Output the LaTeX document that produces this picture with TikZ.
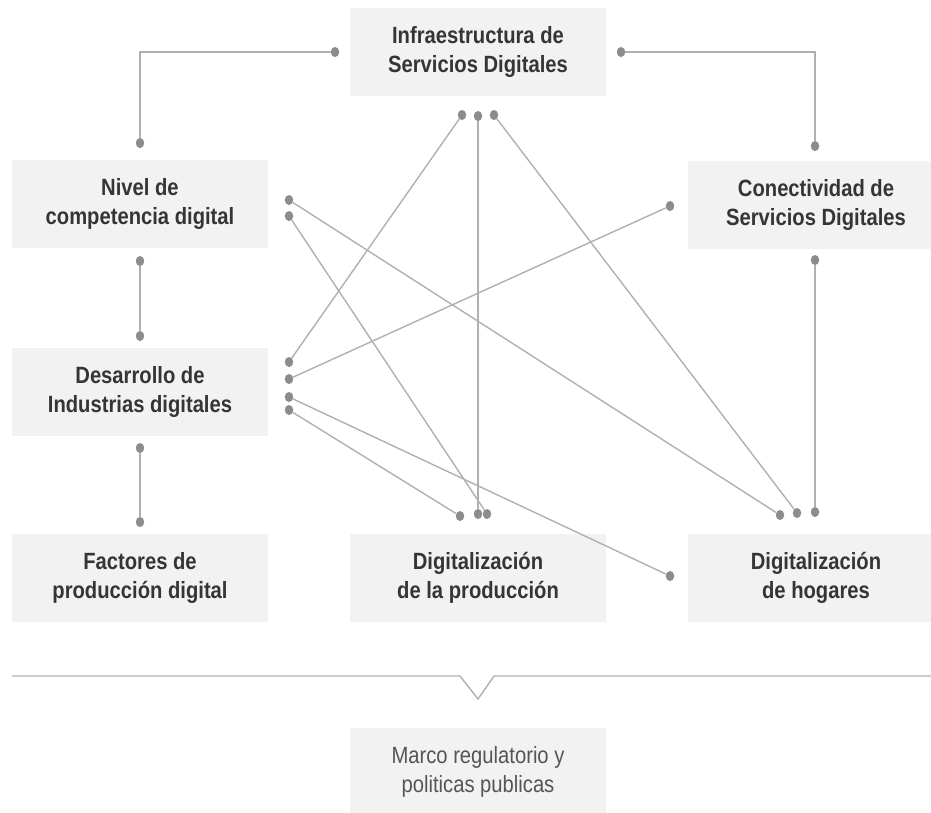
\documentclass[tikz,border=0pt]{standalone}
\usepackage{fontspec}
\usetikzlibrary{shapes.geometric}
\setmainfont{Liberation Sans}
\newfontfamily\boxfont[FakeStretch=0.86]{Liberation Sans}
\definecolor{boxfill}{HTML}{F2F2F2}
\definecolor{txt}{HTML}{353535}
\definecolor{txtlight}{HTML}{555555}
\definecolor{wire}{HTML}{B0B0B0}
\definecolor{dotc}{HTML}{8C8C8C}
\tikzset{
  panel/.style={fill=boxfill, draw=none, minimum width=256pt, minimum height=88pt, inner sep=0pt, align=center, text=txt, font=\boxfont\fontsize{23.5}{29}\selectfont\bfseries},
  panellight/.style={panel, text=txtlight, font=\boxfont\fontsize{23.5}{29}\selectfont},
  pin/.style={ellipse, fill=dotc, draw=none, minimum width=8.5pt, minimum height=10pt, inner sep=0pt},
  wireline/.style={draw=wire, line width=1.4pt},
}
\begin{document}
\begin{tikzpicture}[x=1pt,y=-1pt]
\useasboundingbox (0,0) rectangle (931,812);
% boxes
\node[panel] (infra) at (478,52) {Infraestructura de\\Servicios Digitales};
\node[panel] (nivel) at (140,204) {Nivel de\\competencia digital};
\node[panel] (conect) at (816,205) {Conectividad de\\Servicios Digitales};
\node[panel] (desa) at (140,392) {Desarrollo de\\Industrias digitales};
\node[panel] (fact) at (140,578) {Factores de\\producción digital};
\node[panel] (prod) at (478,578) {Digitalización\\de la producción};
\node[panel] (hog) at (816,578) {Digitalización\\de hogares};
\node[panellight] (marco) at (478,772) {Marco regulatorio y\\politicas publicas};
% pins
\node[pin] (infL) at (335,52) {};
\node[pin] (infR) at (621,52) {};
\node[pin] (infB1) at (462,115) {};
\node[pin] (infB2) at (478,116) {};
\node[pin] (infB3) at (494,115) {};
\node[pin] (nivT) at (140,143) {};
\node[pin] (nivB) at (140,261) {};
\node[pin] (nivR1) at (289,200) {};
\node[pin] (nivR2) at (289,216) {};
\node[pin] (conT) at (815,146) {};
\node[pin] (conB) at (815,260) {};
\node[pin] (conL) at (670,206) {};
\node[pin] (desT) at (140,336) {};
\node[pin] (desB) at (140,448) {};
\node[pin] (desR1) at (289,362) {};
\node[pin] (desR2) at (289,379) {};
\node[pin] (desR3) at (289,397) {};
\node[pin] (desR4) at (289,410) {};
\node[pin] (facT) at (140,522) {};
\node[pin] (proT1) at (460,516) {};
\node[pin] (proT2) at (478,514) {};
\node[pin] (proT3) at (487,514) {};
\node[pin] (hogT1) at (780,515) {};
\node[pin] (hogT2) at (797,513) {};
\node[pin] (hogT3) at (815,512) {};
\node[pin] (hogL) at (670,576) {};
% connectors
\draw[wireline] (infL) -| (nivT);
\draw[wireline] (infR) -| (conT);
\draw[wireline] (nivB) -- (desT);
\draw[wireline] (desB) -- (facT);
\draw[wireline] (conB) -- (hogT3);
\draw[wireline] (infB1) -- (desR1);
\draw[wireline] (infB2) -- (proT2);
\draw[wireline] (infB3) -- (hogT2);
\draw[wireline] (nivR1) -- (hogT1);
\draw[wireline] (nivR2) -- (proT3);
\draw[wireline] (conL) -- (desR2);
\draw[wireline] (desR3) -- (hogL);
\draw[wireline] (desR4) -- (proT1);
% divider
\coordinate (dl) at (12,676);
\coordinate (n1) at (460,676);
\coordinate (apex) at (478,699);
\coordinate (n2) at (494,676);
\coordinate (dr) at (931,676);
\draw[wireline, line join=miter] (dl) -- (n1) -- (apex) -- (n2) -- (dr);
\end{tikzpicture}
\end{document}
